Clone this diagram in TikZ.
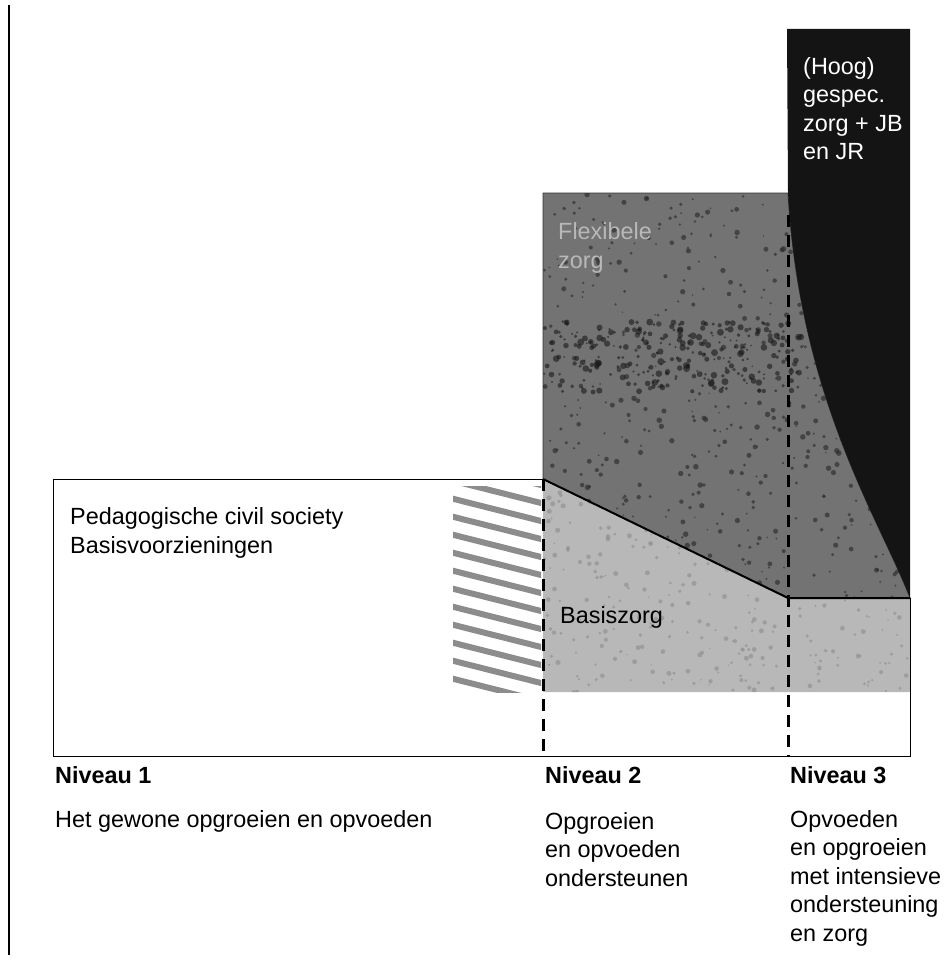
\documentclass[tikz,border=0pt]{standalone}
\usepackage{fontspec}
\setmainfont{Liberation Sans}
\usetikzlibrary{positioning}

\tikzset{
  niveau/.style={anchor=base west, inner sep=0pt, font=\fontsize{23.4}{28.5}\selectfont\bfseries},
  uitleg/.style={anchor=base west, inner sep=0pt, align=left, font=\fontsize{23.4}{28.5}\selectfont},
  grens/.style={line width=3pt, dash pattern=on 12pt off 8pt},
  vlek/.style={fill=#1, opacity=0.6},
}

\begin{document}
\begin{tikzpicture}[x=1pt, y=-1pt]
    \useasboundingbox (0,0) rectangle (946,960);
    % Kantlijn
    \draw[line width=1.2pt] (9,5) -- (9,955);

    % Niveau 1
    \fill[white] (53,479) rectangle (910,756);
    \begin{scope}
        \clip (453,486) rectangle (541,692);
        \foreach \y in {462,480,...,700}
            \draw[black!45, line width=6pt] (450,\y) -- (545,\y+24);
    \end{scope}

    % Basiszorg
    \fill[black!28] (543,479) -- (788,598) -- (910,598) -- (910,692) -- (543,692) -- cycle;
    \begin{scope}
        \clip (543,479) -- (788,598) -- (910,598) -- (910,692) -- (543,692) -- cycle;
        \pgfmathsetseed{3}
        \foreach \i in {1,...,350}
            \fill[vlek=black!45] (543+rnd*367, 479+rnd*213) circle[radius=0.8pt+rnd*1.8pt];
    \end{scope}

    % Flexibele zorg
    \filldraw[fill=black!55, draw=black!80, line width=0.8pt]
        (543,479) -- (543,193) -- (788,193) .. controls (800,400) and (880,520) .. (910,598) -- (788,598) -- cycle;
    \begin{scope}
        \clip (543,479) -- (543,193) -- (788,193) .. controls (800,400) and (880,520) .. (910,598) -- (788,598) -- cycle;
        \pgfmathsetseed{7}
        \foreach \i in {1,...,600}
            \fill[vlek=black!85] (543+rnd*367, 193+rnd*405) circle[radius=0.8pt+rnd*2pt];
        \foreach \i in {1,...,250}
            \fill[vlek=black!90] (543+rnd*260, 322+rnd*70) circle[radius=1pt+rnd*2.5pt];
    \end{scope}

    % (Hoog) gespecialiseerde zorg
    \fill[black!92] (787,29) -- (910,29) -- (910,598) .. controls (880,520) and (800,400) .. (788,193) -- cycle;

    \draw[line width=2pt] (543,479) -- (788,598) -- (910,598);
    \draw[line width=1pt] (543,479) -- (53,479) -- (53,756) -- (910,756) -- (910,598);

    % Grenzen tussen de niveaus
    \coordinate (g2top) at (543,479);
    \coordinate (g2bot) at (543,756);
    \coordinate (g3top) at (788,215);
    \coordinate (g3bot) at (788,756);
    \draw[grens] (g2top) -- (g2bot);
    \draw[grens] (g3top) -- (g3bot);

    % Teksten in de vlakken (base = basislijn van de laatste regel)
    \node[uitleg] (pcs) at (70,553) {Pedagogische civil society\\Basisvoorzieningen};
    \node[uitleg] (basis) at (560,623) {Basiszorg};
    \node[uitleg, text=black!28] (flex) at (558,268) {Flexibele\\zorg};
    \node[uitleg, text=white] (hoog) at (803,160) {(Hoog)\\gespec.\\zorg + JB\\en JR};

    % Niveaus
    \node[niveau] (niv1) at (55,783) {Niveau 1};
    \node[niveau] (niv2) at (545,783) {Niveau 2};
    \node[niveau] (niv3) at (790,783) {Niveau 3};
    \node[uitleg] (tekst1) at (55,827) {Het gewone opgroeien en opvoeden};
    \node[uitleg] (tekst2) at (545,886) {Opgroeien\\en opvoeden\\ondersteunen};
    \node[uitleg] (tekst3) at (790,941) {Opvoeden\\en opgroeien\\met intensieve\\ondersteuning\\en zorg};
\end{tikzpicture}
\end{document}
